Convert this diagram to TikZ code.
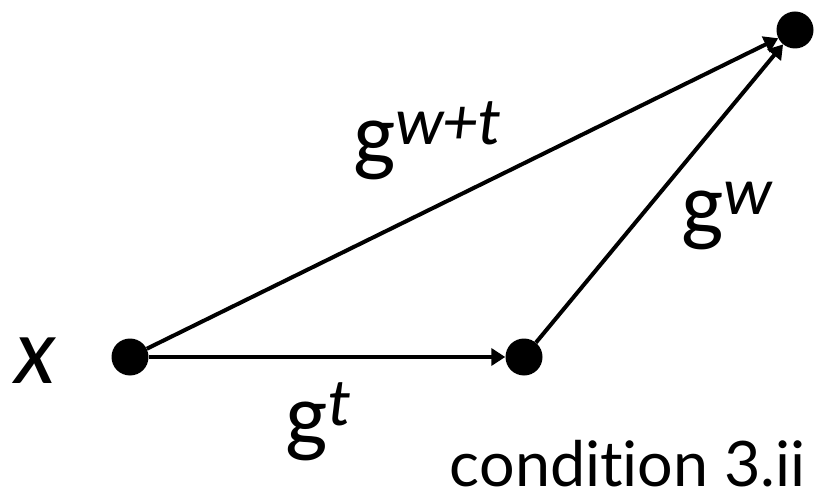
\documentclass[tikz,border=0pt]{standalone}
\usepackage{fontspec}
\setmainfont{Lato}[Ligatures=NoCommon]
\newfontfamily\lblfont{Carlito}
\usetikzlibrary{arrows.meta}
\newcommand\mysup[1]{\raisebox{20bp}{\fontsize{68}{68}\selectfont\itshape #1}}
\begin{document}
\begin{tikzpicture}[x=1bp,y=-1bp,
  dot/.style={circle,fill=black,minimum size=37bp,inner sep=0pt},
  conn/.style={line width=4bp,-{Triangle[length=14bp,width=17bp]}},
  lbl/.style={font=\lblfont\fontsize{90}{94}\selectfont,inner sep=0pt,anchor=base west},
  cond/.style={font=\fontsize{63}{67}\selectfont,inner sep=0pt,anchor=base east},
]
\useasboundingbox (0,0) rectangle (815,492);
\node[dot] (x) at (130,357) {};
\node[dot] (m) at (524,357) {};
\node[dot] (t) at (795,30) {};
\draw[conn] (x) -- (m);
\draw[conn] (x) -- (t);
\draw[conn] (m) -- (t);
\node[lbl,font=\lblfont\fontsize{96}{100}\selectfont\itshape] (xl) at (14,383) {x};
\node[lbl] (lwt) at (353,165) {g\mysup{w+t}};
\node[lbl] (lw) at (681,235) {g\mysup{w}};
\node[lbl] (lt) at (285,445) {g\mysup{t}};
\node[cond] (c) at (806,486) {condition 3.ii};
\end{tikzpicture}
\end{document}
